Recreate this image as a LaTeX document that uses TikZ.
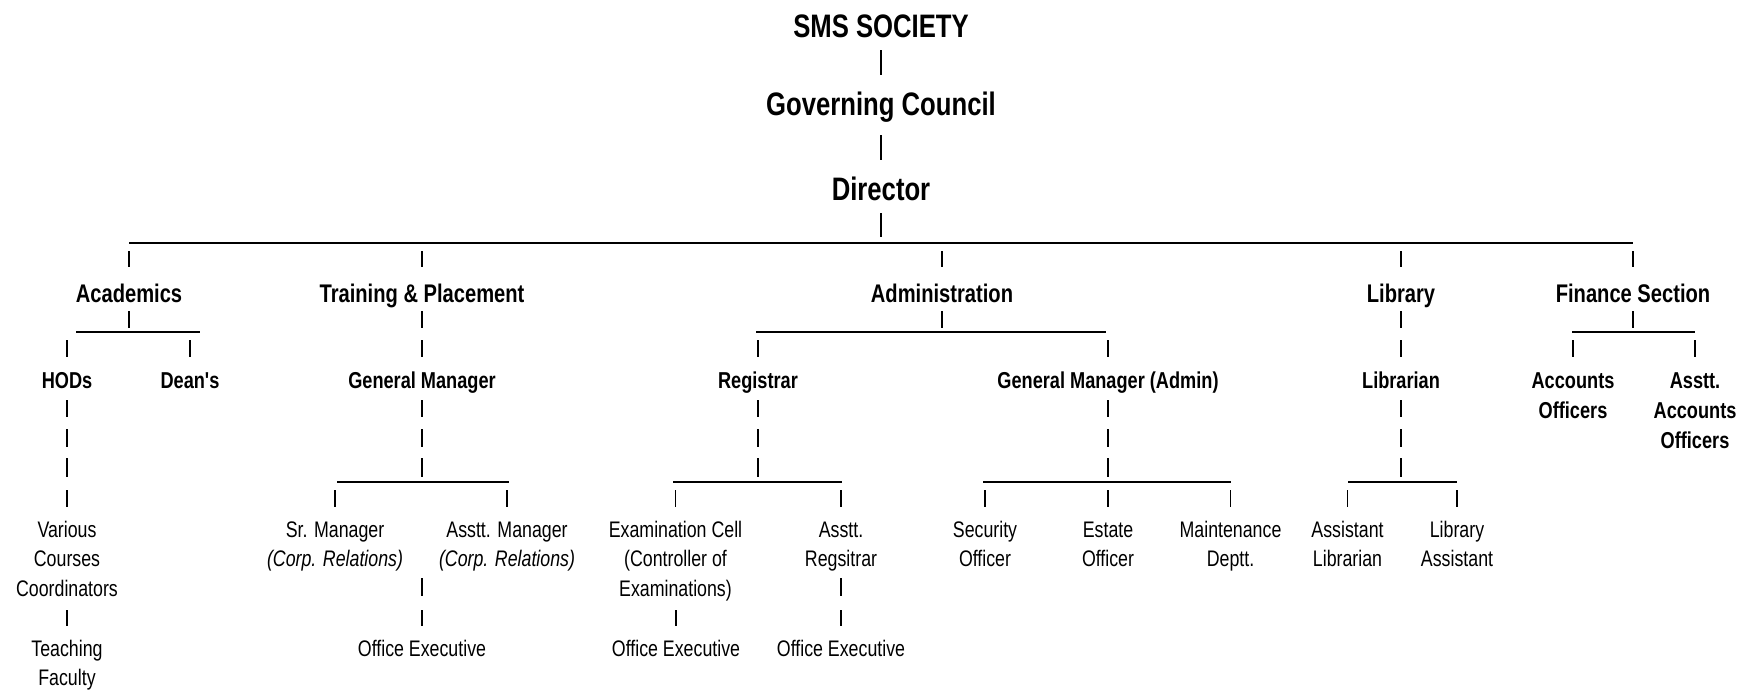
\documentclass[tikz,border=0pt]{standalone}
\usepackage{fontspec}
% straight apostrophes as typed: no TeX ligature mapping
\setmainfont{Liberation Sans}[FakeStretch=0.79, Ligatures=TeXOff]

% multi-line label, aligned on the baseline of its first line
\newcommand\ml[1]{\begin{tabular}[t]{@{}c@{}}#1\end{tabular}}
% short vertical dash under/over a node, between two heights
\newcommand\vtick[3]{\draw[tick] (#1 |- 0,#2) -- (#1 |- 0,#3);}

\begin{document}
\begin{tikzpicture}[x=1pt,y=-1pt,
  top/.style={font=\fontsize{32.5}{38}\selectfont\bfseries, anchor=base, inner sep=0pt},
  dept/.style={font=\fontsize{25.5}{30}\selectfont\bfseries, anchor=base, inner sep=0pt},
  head/.style={font=\fontsize{23}{30}\selectfont\bfseries, anchor=base, inner sep=0pt},
  staff/.style={font=\fontsize{22.5}{29.5}\selectfont, anchor=base, inner sep=0pt},
  tick/.style={line width=1.6pt},
  bar/.style={line width=1.9pt},
  bus/.style={line width=1.2pt}]
\useasboundingbox (0,0) rectangle (1752,691);

% ---- top of the hierarchy
\node[top] (soc) at (881,37)  {SMS SOCIETY};
\node[top] (gc)  at (881,115) {Governing Council};
\node[top] (dir) at (881,200) {Director};
\draw[bar] (soc |- 0,50)  -- (soc |- 0,75);
\draw[bar] (gc  |- 0,135) -- (gc  |- 0,160);
\draw[bar] (dir |- 0,213) -- (dir |- 0,237);

% ---- departments
\node[dept] (acad) at (129,302)  {Academics};
\node[dept] (tp)   at (422,302)  {Training \& Placement};
\node[dept] (adm)  at (942,302)  {Administration};
\node[dept] (lib)  at (1401,302) {Library};
\node[dept] (fin)  at (1633,302) {Finance Section};
\draw[bus] (acad |- 0,243) -- (fin |- 0,243);
\foreach \n in {acad,tp,adm,lib,fin} {
  \vtick{\n}{251}{267}
  \vtick{\n}{311}{328}
}

% ---- heads
\node[head] (hod)  at (67,388)   {HODs};
\node[head] (dean) at (190,388)  {Dean's};
\node[head] (gm)   at (422,388)  {General Manager};
\node[head] (reg)  at (758,388)  {Registrar};
\node[head] (gma)  at (1108,388) {General Manager (Admin)};
\node[head] (libn) at (1401,388) {Librarian};
\node[head] (acc)  at (1573,388) {\ml{Accounts\\Officers}};
\node[head] (aacc) at (1695,388) {\ml{Asstt.\\Accounts\\Officers}};

\coordinate (acadL) at (76,332);   \coordinate (acadR) at (200,332);
\coordinate (admL)  at (756,332);  \coordinate (admR)  at (1106,332);
\coordinate (finL)  at (1572,332); \coordinate (finR)  at (1695,332);
\draw[bus] (acadL) -- (acadR);
\draw[bus] (admL) -- (admR);
\draw[bus] (finL) -- (finR);
\foreach \n in {hod,dean,gm,reg,gma,libn,acc,aacc} { \vtick{\n}{340}{357} }
\foreach \n in {hod,gm,reg,gma,libn} {
  \vtick{\n}{400}{417}
  \vtick{\n}{429}{447}
  \vtick{\n}{458}{477}
}
\vtick{hod}{490}{507}

% ---- staff
\node[staff] (vcc)   at (67,537)     {\ml{Various\\Courses\\Coordinators}};
\node[staff] (srm)   at (335,537)    {\ml{Sr. Manager\\\itshape (Corp. Relations)}};
\node[staff] (asm)   at (507,537)    {\ml{Asstt. Manager\\\itshape (Corp. Relations)}};
\node[staff] (exc)   at (675.5,537)  {\ml{Examination Cell\\(Controller of\\Examinations)}};
\node[staff] (areg)  at (841,537)    {\ml{Asstt.\\Regsitrar}};
\node[staff] (sec)   at (985,537)    {\ml{Security\\Officer}};
\node[staff] (est)   at (1108,537)   {\ml{Estate\\Officer}};
\node[staff] (mnt)   at (1230.5,537) {\ml{Maintenance\\Deptt.}};
\node[staff] (alib)  at (1347.5,537) {\ml{Assistant\\Librarian}};
\node[staff] (lasst) at (1457,537)   {\ml{Library\\Assistant}};

\coordinate (tpL)  at (337,482);  \coordinate (tpR)  at (509,482);
\coordinate (regL) at (673,482);  \coordinate (regR) at (842,482);
\coordinate (gmaL) at (983,482);  \coordinate (gmaR) at (1231,482);
\coordinate (libL) at (1348,482); \coordinate (libR) at (1457,482);
\draw[bus] (tpL) -- (tpR);
\draw[bus] (regL) -- (regR);
\draw[bus] (gmaL) -- (gmaR);
\draw[bus] (libL) -- (libR);
\foreach \n in {srm,asm,exc,areg,sec,est,mnt,alib,lasst} { \vtick{\n}{490}{507} }

% ---- bottom row
\node[staff] (tf)  at (67,656)  {\ml{Teaching\\Faculty}};
\node[staff] (oe1) at (422,656) {Office Executive};
\node[staff] (oe2) at (676,656) {Office Executive};
\node[staff] (oe3) at (841,656) {Office Executive};
\vtick{vcc}{610}{626}
\vtick{oe1}{578}{596}
\vtick{oe1}{610}{626}
\vtick{oe2}{610}{626}
\vtick{oe3}{578}{596}
\vtick{oe3}{610}{626}
\end{tikzpicture}
\end{document}
